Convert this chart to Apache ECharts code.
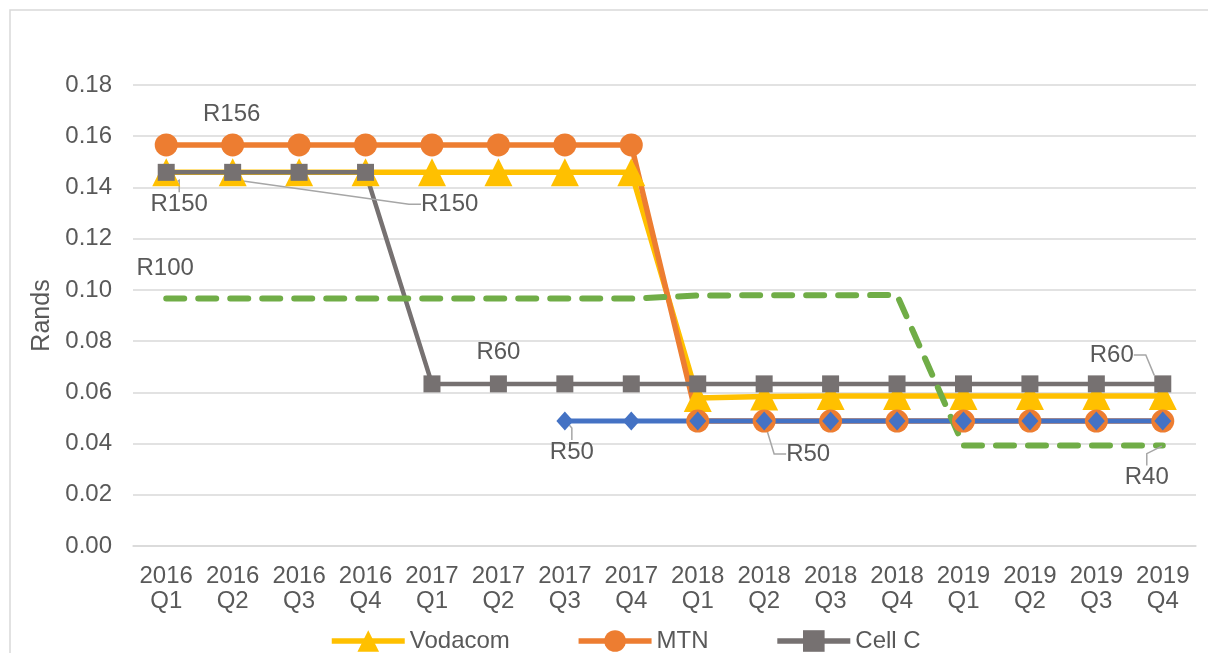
<!DOCTYPE html>
<html><head><meta charset="utf-8">
<script src="https://cdn.jsdelivr.net/npm/echarts@6/dist/echarts.min.js"></script>
<style>html,body{margin:0;padding:0;background:#fff;overflow:hidden}#chart{width:1208px;height:653px}</style>
</head><body><div id="chart"></div>
<script>
// ---- data ----
const categories = ['2016\nQ1','2016\nQ2','2016\nQ3','2016\nQ4','2017\nQ1','2017\nQ2','2017\nQ3','2017\nQ4',
                    '2018\nQ1','2018\nQ2','2018\nQ3','2018\nQ4','2019\nQ1','2019\nQ2','2019\nQ3','2019\nQ4'];
const vodacom = [0.1459,0.1459,0.1459,0.1459,0.1459,0.1459,0.1459,0.1459,0.0578,0.0584,0.0586,0.0586,0.0586,0.0586,0.0586,0.0586];
const mtn     = [0.1566,0.1566,0.1566,0.1566,0.1566,0.1566,0.1566,0.1566,0.0488,0.0488,0.0488,0.0488,0.0488,0.0488,0.0488,0.0488];
const cellC   = [0.1459,0.1459,0.1459,0.1459,0.0633,0.0633,0.0633,0.0633,0.0633,0.0633,0.0633,0.0633,0.0633,0.0633,0.0633,0.0633];
const rain    = [null,null,null,null,null,null,0.0488,0.0488,0.0488,0.0488,0.0488,0.0488,0.0488,0.0488,0.0488,0.0488];
const telkom  = [0.0966,0.0966,0.0966,0.0966,0.0966,0.0966,0.0966,0.0966,0.0978,0.0979,0.0979,0.0980,0.0392,0.0392,0.0392,0.0392];
const yTicks = [0,0.02,0.04,0.06,0.08,0.10,0.12,0.14,0.16,0.18];
const legendNames = ['Vodacom','MTN','Cell C'];
const annotations = [
  {series:'Vodacom', index:0,  text:'R150'},
  {series:'MTN',     index:1,  text:'R156'},
  {series:'Cell C',  index:1,  text:'R150'},
  {series:'Telkom',  index:0,  text:'R100'},
  {series:'Cell C',  index:5,  text:'R60'},
  {series:'Rain',    index:6,  text:'R50'},
  {series:'MTN',     index:9,  text:'R50'},
  {series:'Cell C',  index:15, text:'R60'},
  {series:'Telkom',  index:15, text:'R40'}
];
// ---- label placement (style) ----
const labelOffsets = {
  'Vodacom|0': {dx:13, dy:32, line:true},
  'MTN|1':     {dx:-1, dy:-31, line:false},
  'Cell C|1':  {dx:217, dy:32, line:true},
  'Telkom|0':  {dx:-1, dy:-30, line:false},
  'Cell C|5':  {dx:0, dy:-32, line:false},
  'Rain|6':    {dx:7, dy:31, line:true},
  'MTN|9':     {dx:44, dy:33, line:true},
  'Cell C|15': {dx:-51, dy:-29, line:true},
  'Telkom|15': {dx:-16, dy:32, line:true}
};
const FONT = 'Liberation Sans, Arial, sans-serif';
const TXT = '#595959';

function buildData(name, values){
  return values.map((v,i)=>{
    const a = annotations.find(x=>x.series===name && x.index===i);
    if(!a) return v;
    const off = labelOffsets[name+'|'+i];
    return {value:v,
      label:{show:true, formatter:a.text, position:'inside', color:TXT, fontSize:24, fontFamily:FONT},
      labelLine:{show:off.line, length2:12, lineStyle:{color:'#a6a6a6', width:1.5}}};
  });
}
function layoutFor(name){
  return function(p){
    const off = labelOffsets[name+'|'+p.dataIndex];
    return off ? {dx:off.dx, dy:off.dy} : {};
  };
}
function mk(name, values, color, symbol, size, width, extra){
  return Object.assign({
    name, type:'line', data:buildData(name, values), symbol, symbolSize:size,
    showAllSymbol:true, connectNulls:false,
    lineStyle:{color, width, join:'round'},
    itemStyle:{color, borderColor:color, borderWidth:0},
    label:{show:false},
    labelLayout:layoutFor(name),
    emphasis:{disabled:true}
  }, extra||{});
}

const chart = echarts.init(document.getElementById('chart'), null, {renderer:'canvas'});
chart.setOption({
  animation:false,
  backgroundColor:'#fff',
  graphic:[{type:'rect', shape:{x:10, y:10, width:1220, height:700}, style:{fill:'none', stroke:'#d9d9d9', lineWidth:1.5}, silent:true}],
  grid:{left:133, right:12, top:85, bottom:107},
  legend:{data:legendNames, left:324, top:624, itemWidth:73, itemHeight:27, itemGap:66,
          lineStyle:{width:5.5},
          textStyle:{color:TXT, fontSize:24, fontFamily:FONT}},
  xAxis:{type:'category', data:categories, boundaryGap:true,
         axisLine:{show:true, lineStyle:{color:'#d9d9d9', width:1.5}}, axisTick:{show:false},
         axisLabel:{color:TXT, fontSize:24, fontFamily:FONT, lineHeight:25, margin:18, interval:0}},
  yAxis:{type:'value', min:yTicks[0], max:yTicks[yTicks.length-1], interval:0.02,
         name:'Rands', nameLocation:'middle', nameGap:77, nameRotate:90,
         nameTextStyle:{color:TXT, fontSize:25, fontFamily:FONT},
         axisLine:{show:false}, axisTick:{show:false},
         splitLine:{lineStyle:{color:'#d9d9d9', width:1.5}},
         axisLabel:{color:TXT, fontSize:24, fontFamily:FONT, margin:21, formatter:v=>v.toFixed(2)}},
  series:[
    mk('Vodacom', vodacom, '#FFC000', 'triangle', [28,28], 5.5),
    mk('MTN', mtn, '#ED7D31', 'circle', 23, 5.5),
    mk('Cell C', cellC, '#767171', 'rect', 17, 4.5),
    mk('Rain', rain, '#4472C4', 'diamond', [17,19], 5),
    mk('Telkom', telkom, '#70AD47', 'circle', 2, 6, {
      lineStyle:{color:'#70AD47', width:6, type:[18,14], cap:'round', join:'round'},
      itemStyle:{color:'rgba(112,173,71,0)', borderWidth:0}})
  ]
});
</script></body></html>
